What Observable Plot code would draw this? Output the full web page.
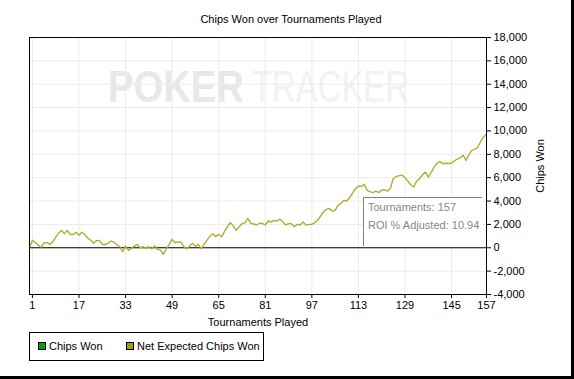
<!DOCTYPE html>
<html><head><meta charset="utf-8">
<script src="https://cdn.jsdelivr.net/npm/d3@7"></script>
<script src="https://cdn.jsdelivr.net/npm/@observablehq/plot@0.6"></script>
<style>
body{margin:0;background:#fff;}
#wrap{position:relative;width:574px;height:379px;overflow:hidden;font-family:"Liberation Sans",Arial,sans-serif;font-size:11px;color:#000;}
#wm{position:absolute;left:0;top:0;}
#chart{position:absolute;left:0;top:0;}
#tip{position:absolute;left:363px;top:197px;width:119px;height:49px;background:#fff;border-top:1px solid #808080;border-left:1px solid #808080;box-sizing:border-box;color:#8e7f90;font-size:11px;}
#tip div{position:absolute;left:4px;white-space:nowrap;line-height:13px;}
#legend{position:absolute;left:29px;top:332px;width:235px;height:29px;border:1px solid #000;box-sizing:border-box;}
.sw{position:absolute;top:9px;width:8px;height:8px;border:1px solid #000;box-sizing:border-box;}
.lt{position:absolute;top:7px;line-height:13px;white-space:nowrap;}
#shR{position:absolute;left:571px;top:0;width:3px;height:379px;background:#000;}
#shB{position:absolute;left:0;top:376px;width:574px;height:3px;background:#000;}
</style></head><body>
<div id="wrap">
<svg id="wm" width="574" height="379">
<text transform="translate(108,102) scale(0.85,1)" font-family="Liberation Sans" font-weight="bold" font-size="45" fill="#e8e8e8">POKER</text>
<text transform="translate(252,102) scale(0.73,1)" font-family="Liberation Sans" font-size="45" fill="#f2f2f2">TRACKER</text>
</svg>
<div id="chart"></div>
<div id="tip"><div style="top:3px">Tournaments: 157</div><div style="top:21px">ROI % Adjusted: 10.94</div></div>
<div id="legend">
<div class="sw" style="left:8px;background:#00a000"></div><div class="lt" style="left:19px">Chips Won</div>
<div class="sw" style="left:96px;background:#a0a010"></div><div class="lt" style="left:107px">Net Expected Chips Won</div>
</div>
<div id="shR"></div><div id="shB"></div>
</div>
<script>
const title = "Chips Won over Tournaments Played";
const xLabel = "Tournaments Played";
const yLabel = "Chips Won";
const tournaments = d3.range(0, 158);
const netExpected = [
0, 650, 450, 230, 50, 420, 450, 290, 520, 900,
1250, 1480, 1210, 1480, 1130, 1130, 1330, 1070, 1330, 1130,
840, 650, 380, 600, 630, 300, 260, 400, 570, 480,
250, 90, -340, 150, -220, -50, 150, 290, 0, 90,
-50, 90, -90, 150, -140, -200, -570, -90, 290, 720,
430, 490, 490, 100, -90, 150, 380, 150, 290, -90,
300, 650, 1000, 1200, 940, 1150, 940, 1400, 1800, 2140,
1880, 1490, 1800, 2060, 2140, 2520, 2090, 2040, 1950, 2100,
2080, 1950, 2290, 2200, 2350, 2290, 2450, 2230, 1950, 2060,
2060, 1800, 2000, 1950, 2200, 1950, 2000, 2000, 2150, 2350,
2720, 3060, 3300, 3350, 3140, 3200, 3660, 3800, 4060, 4000,
4300, 4700, 5050, 5290, 5250, 5430, 4920, 4800, 4720, 4850,
4720, 4950, 4950, 4850, 5100, 5950, 6100, 6180, 6220, 6000,
5700, 5400, 5200, 5710, 5900, 6250, 6490, 6050, 6450, 6900,
7250, 7370, 7200, 7230, 7220, 7230, 7450, 7600, 7700, 7910,
7480, 8000, 8340, 8450, 8600, 9100, 9490, 9710
];
const xTicks = [1, 17, 33, 49, 65, 81, 97, 113, 129, 145, 157];
const yTicks = [-4000, -2000, 0, 2000, 4000, 6000, 8000, 10000, 12000, 14000, 16000, 18000];

const data = tournaments.map((t, i) => ({t, v: netExpected[i]}));
const fmt = d => d3.format(",")(d).replace("\u2212", "-");

const plot = Plot.plot({
  width: 574, height: 379,
  marginLeft: 29, marginRight: 88, marginTop: 37, marginBottom: 85,
  style: {background: "transparent", fontFamily: "Liberation Sans, Arial, sans-serif", fontSize: "11px", color: "#000"},
  x: {domain: [0, 157]},
  y: {domain: [-4000, 18000]},
  marks: [
    Plot.gridY(yTicks, {stroke: "#ebebeb", strokeOpacity: 1}),
    Plot.gridX(xTicks, {stroke: "#ebebeb", strokeOpacity: 1}),
    Plot.ruleY([0], {stroke: "#000", strokeWidth: 1.2}),
    Plot.line(data, {x: "t", y: "v", stroke: "#afaf32", strokeWidth: 1.4}),
    Plot.frame({stroke: "#000"}),
    Plot.axisY(yTicks, {anchor: "right", tickSize: 4, tickPadding: 3, tickFormat: fmt, label: null}),
    Plot.axisX(xTicks, {anchor: "bottom", tickSize: 4, tickPadding: 3, label: null}),
    Plot.text([yLabel], {text: d => d, frameAnchor: "right", rotate: -90, dx: 54, textAnchor: "middle", lineAnchor: "middle"}),
    Plot.text([xLabel], {text: d => d, frameAnchor: "bottom", dy: 28, textAnchor: "middle", lineAnchor: "middle"}),
    Plot.text([title], {text: d => d, frameAnchor: "top", dy: -18, dx: 33, textAnchor: "middle", lineAnchor: "middle"})
  ]
});
document.getElementById("chart").appendChild(plot);
</script>
</body></html>
